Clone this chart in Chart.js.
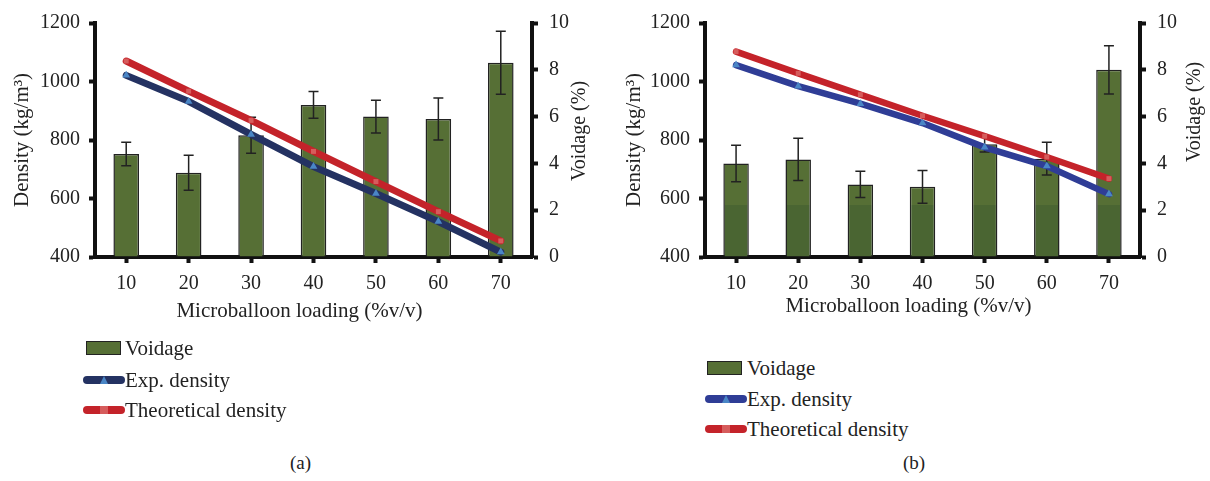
<!DOCTYPE html>
<html lang="en">
<head>
  <meta charset="UTF-8" />
  <title>Density and voidage vs microballoon loading</title>
  <script src="https://cdn.jsdelivr.net/npm/chart.js"></script>
  <style>
    body {
      margin: 0;
      background: #fff;
      font-family: 'Liberation Serif', serif;
      color: #222;
      width: 1210px;
      height: 481px;
      position: relative;
      overflow: hidden;
    }
    .panel { position: absolute; top: 0; width: 605px; height: 335px; }
    #panelA { left: 0; }
    #panelB { left: 605px; }
    .legend { position: absolute; font-size: 21px; }
    .row { position: absolute; left: 0; height: 30px; line-height: 30px; white-space: nowrap; }
    .row .txt { position: absolute; left: 42px; top: 0; }
    .sw-bar { position: absolute; top: 8px; width: 33px; height: 12px; border: 1.5px solid #222; }
    .sw-line { position: absolute; left: 0; top: 11px; width: 42px; height: 8px; border-radius: 4px; }
    .mk { position: absolute; left: 17px; }
    .caption { position: absolute; font-size: 19px; top: 452px; }
  </style>
</head>
<body>
  <div class="panel" id="panelA"><canvas id="chartA" width="605" height="335"></canvas></div>
  <div class="panel" id="panelB"><canvas id="chartB" width="605" height="335"></canvas></div>
  <div class="legend" id="legendA" style="left:83px; top:333px;"></div>
  <div class="legend" id="legendB" style="left:705px; top:353px;"></div>
  <div class="caption" style="left:290px;">(a)</div>
  <div class="caption" style="left:903px;">(b)</div>

  <script>
    const loading = ['10', '20', '30', '40', '50', '60', '70'];
    const seriesNames = ['Voidage', 'Exp. density', 'Theoretical density'];

    // panel (a)
    const voidageA = [4.4, 3.6, 5.2, 6.5, 6.0, 5.9, 8.3];
    const voidageErrA = [0.5, 0.75, 0.77, 0.57, 0.7, 0.9, 1.35];
    const expDensityA = [1021, 932, 819, 709, 617, 521, 417];
    const theoDensityA = [1070, 967, 867, 761, 658, 555, 455];

    // panel (b)
    const voidageB = [4.0, 4.17, 3.1, 3.0, 4.82, 4.2, 8.0];
    const voidageErrB = [0.78, 0.9, 0.56, 0.7, 0.33, 0.7, 1.03];
    const expDensityB = [1056, 984, 924, 858, 775, 711, 615];
    const theoDensityB = [1102, 1028, 955, 883, 813, 742, 668];

    const densityRange = [400, 1200];
    const voidageRange = [0, 10];

    const FONT = "'Liberation Serif', serif";
    const INK = '#222';
    const GREEN = '#566f35';
    const GREEN_DARK = '#4a6532';
    const RED = '#c4232a';

    // error bars drawn right after the bar dataset, so the lines stay on top
    const errorBars = {
      id: 'errorBars',
      afterDatasetDraw(chart, args) {
        const ds = chart.data.datasets[args.index];
        if (!ds.errors) return;
        const y = chart.scales[ds.yAxisID];
        const ctx = chart.ctx;
        ctx.save();
        ctx.strokeStyle = INK;
        ctx.lineWidth = 1.5;
        args.meta.data.forEach((bar, i) => {
          const top = y.getPixelForValue(ds.data[i] + ds.errors[i]);
          const bot = y.getPixelForValue(ds.data[i] - ds.errors[i]);
          ctx.beginPath();
          ctx.moveTo(bar.x, top); ctx.lineTo(bar.x, bot);
          ctx.moveTo(bar.x - 5, top); ctx.lineTo(bar.x + 5, top);
          ctx.moveTo(bar.x - 5, bot); ctx.lineTo(bar.x + 5, bot);
          ctx.stroke();
        });
        ctx.restore();
      }
    };

    // x title sits a bit left of the plot centre; right title reads bottom to top
    const extraTitles = {
      id: 'extraTitles',
      afterDraw(chart, args, opts) {
        const ctx = chart.ctx;
        const area = chart.chartArea;
        ctx.save();
        ctx.fillStyle = INK;
        ctx.textAlign = 'center';
        ctx.textBaseline = 'middle';
        ctx.font = '21px ' + FONT;
        ctx.fillText(opts.xText, (area.left + area.right) / 2 + opts.xShift, opts.xY);
        ctx.font = '20px ' + FONT;
        ctx.translate(opts.rX, opts.rY);
        ctx.rotate(-Math.PI / 2);
        ctx.fillText(opts.rText, 0, 0);
        ctx.restore();
      }
    };

    function makeChart(id, p) {
      const barFill = p.shadeBelow == null ? GREEN : (c) => {
        const chart = c.chart;
        const area = chart.chartArea;
        if (!area) return GREEN;
        const yPix = chart.scales.y.getPixelForValue(p.shadeBelow);
        const f = Math.min(1, Math.max(0, (yPix - area.top) / (area.bottom - area.top)));
        const g = chart.ctx.createLinearGradient(0, area.top, 0, area.bottom);
        g.addColorStop(0, GREEN); g.addColorStop(f, GREEN);
        g.addColorStop(f, GREEN_DARK); g.addColorStop(1, GREEN_DARK);
        return g;
      };

      const axisGrid = { drawOnChartArea: false, tickLength: 6, tickWidth: 4, tickColor: '#111' };
      const axisBorder = { display: true, width: 4, color: '#111' };
      const plain = (v) => String(v);

      new Chart(document.getElementById(id), {
        data: {
          labels: loading,
          datasets: [
            {
              type: 'bar', label: seriesNames[0], data: p.voidage, errors: p.errors,
              yAxisID: 'y1', order: 2,
              backgroundColor: barFill, borderColor: INK, borderWidth: 1.5,
              categoryPercentage: 1, barPercentage: 0.41
            },
            {
              type: 'line', label: seriesNames[1], data: p.exp, yAxisID: 'y', order: 1,
              borderColor: p.expColor, borderWidth: p.lineWidth, borderCapStyle: 'round',
              tension: 0, pointStyle: 'triangle', pointRadius: 4.5, pointBorderWidth: 0,
              pointBackgroundColor: '#4a86c6'
            },
            {
              type: 'line', label: seriesNames[2], data: p.theo, yAxisID: 'y', order: 0,
              borderColor: RED, borderWidth: p.lineWidth, borderCapStyle: 'round',
              tension: 0, pointStyle: 'rect', pointRadius: 3.5, pointBorderWidth: 0,
              pointBackgroundColor: '#d65c5c'
            }
          ]
        },
        options: {
          responsive: false,
          animation: false,
          devicePixelRatio: 1,
          layout: { padding: { top: p.top, left: 0, right: 0, bottom: 0 } },
          plugins: {
            legend: { display: false },
            tooltip: { enabled: false },
            extraTitles: {
              xText: 'Microballoon loading (%v/v)', xShift: -14, xY: p.xtY,
              rText: 'Voidage (%)', rX: p.rtX, rY: p.rtY
            }
          },
          scales: {
            x: {
              afterFit: (s) => { s.height = 78; },
              grid: Object.assign({ offset: false }, axisGrid),
              border: axisBorder,
              ticks: { color: INK, font: { family: FONT, size: 20 }, padding: 9 }
            },
            y: {
              position: 'left',
              min: densityRange[0], max: densityRange[1],
              afterFit: (s) => { s.width = p.leftW; },
              grid: axisGrid,
              border: axisBorder,
              ticks: { stepSize: 200, callback: plain, color: INK, font: { family: FONT, size: 20 }, padding: 9 },
              title: {
                display: true, text: 'Density (kg/m³)', color: INK,
                font: { family: FONT, size: 21 }, padding: { top: p.ytPad, bottom: 0 }
              }
            },
            y1: {
              position: 'right',
              min: voidageRange[0], max: voidageRange[1],
              afterFit: (s) => { s.width = p.rightW; },
              grid: axisGrid,
              border: axisBorder,
              ticks: { stepSize: 2, callback: plain, color: INK, font: { family: FONT, size: 20 }, padding: 11 }
            }
          }
        },
        plugins: [errorBars, extraTitles]
      });
    }

    makeChart('chartA', {
      voidage: voidageA, errors: voidageErrA, exp: expDensityA, theo: theoDensityA,
      expColor: '#243262', lineWidth: 7, top: 23, leftW: 95, rightW: 73,
      ytPad: 10, xtY: 311, rtX: 580, rtY: 131, shadeBelow: null
    });

    makeChart('chartB', {
      voidage: voidageB, errors: voidageErrB, exp: expDensityB, theo: theoDensityB,
      expColor: '#2f3d96', lineWidth: 6.5, top: 14, leftW: 100, rightW: 70,
      ytPad: 17, xtY: 306, rtX: 590, rtY: 112, shadeBelow: 578
    });

    // legends
    function buildLegend(id, expColor, rowTops, barLeft) {
      const box = document.getElementById(id);
      const swatches = [
        `<span class="sw-bar" style="left:${barLeft}px;background:${GREEN}"></span>`,
        `<span class="sw-line" style="background:${expColor}"><span class="mk" style="top:0;width:0;height:0;border-left:4px solid transparent;border-right:4px solid transparent;border-bottom:8px solid #4a86c6"></span></span>`,
        `<span class="sw-line" style="background:${RED}"><span class="mk" style="top:0;width:8px;height:8px;background:#d65c5c"></span></span>`
      ];
      seriesNames.forEach((name, i) => {
        const row = document.createElement('div');
        row.className = 'row';
        row.style.top = rowTops[i] + 'px';
        row.innerHTML = swatches[i] + `<span class="txt">${name}</span>`;
        box.appendChild(row);
      });
    }
    buildLegend('legendA', '#243262', [0, 32, 62], 3);
    buildLegend('legendB', '#2f3d96', [0, 31, 61], 2);
  </script>
</body>
</html>
